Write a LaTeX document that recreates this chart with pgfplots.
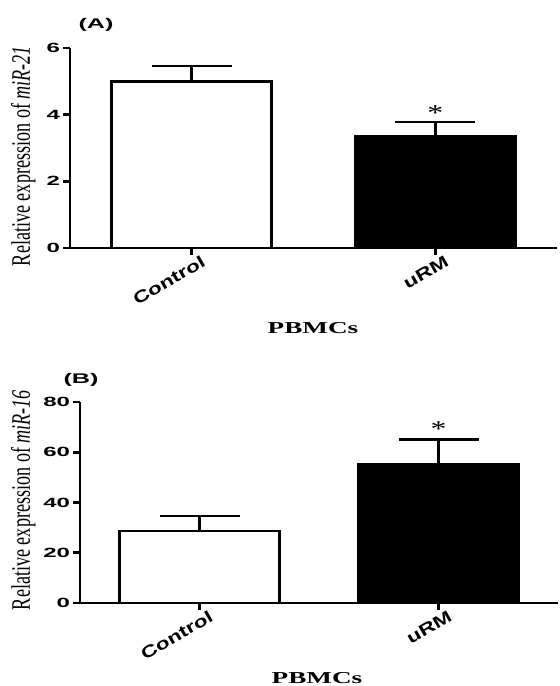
\documentclass[border=0pt]{standalone}
\usepackage{fontspec}
\usepackage{pgfplots}
\pgfplotsset{compat=1.18}
\newfontfamily\tickfont[FakeStretch=1.8]{Liberation Sans}
\newfontfamily\xtfont[FakeStretch=1.35]{Liberation Sans}
\newfontfamily\pbfont[FakeStretch=1.63]{Liberation Serif}
\newfontfamily\ylabfont[FakeStretch=0.68]{Liberation Serif}
\newfontfamily\starfont[FakeStretch=1.4]{Liberation Serif}

\pgfplotsset{
  panel/.style={
    scale only axis,
    axis x line*=bottom,
    axis y line*=left,
    axis line style={line width=1.9pt},
    every tick/.style={black, line width=1.9pt},
    tick align=outside,
    major tick length=5.25pt,
    xtick pos=bottom, ytick pos=left,
    xmin=-0.5, xmax=1.5, ymin=0,
    xtick={0,1},
    xticklabels={Control,uRM},
    xticklabel style={font=\xtfont\bfseries\fontsize{12.5pt}{14pt}\selectfont,
      rotate=30, anchor=north east, inner sep=0pt, xshift=6pt, yshift=-3pt},
    yticklabel style={font=\tickfont\bfseries\fontsize{10pt}{12pt}\selectfont, inner sep=2pt},
    /pgf/number format/assume math mode=true,
    ybar, bar width=120pt,
    clip=false,
  },
  barA/.style={bar shift=0pt, draw=black, line width=1.9pt,
    error bars/y dir=plus, error bars/y explicit,
    error bars/error bar style={line width=1.9pt, black},
    error bars/error mark options={rotate=90, line width=1.9pt, black, mark size=30pt}},
}

\begin{document}
\begin{tikzpicture}
\useasboundingbox (0pt,0pt) rectangle (420pt,-514.5pt);

% panel A
\begin{axis}[panel, at={(52.5pt,-186pt)}, anchor=south west,
  width=365.25pt, height=150pt, ymax=6, ytick={0,2,4,6}]
  \addplot[barA, fill=white] coordinates {(0,5.0) +- (0,0.46)};
  \addplot[barA, fill=black] coordinates {(1,3.36) +- (0,0.42)};
  \node[font=\starfont\fontsize{17pt}{17pt}\selectfont, anchor=north, inner sep=0pt]
    at (axis cs:1,4.29) {*};
\end{axis}
\node[font=\tickfont\bfseries\fontsize{10.5pt}{12pt}\selectfont] at (72pt,-18.75pt) {(A)};
\node[font=\ylabfont\fontsize{20pt}{22pt}\selectfont, rotate=90, anchor=base]
  at (22.5pt,-117pt) {Relative expression of \textit{miR-21}};
\node[font=\pbfont\bfseries\fontsize{12.5pt}{14pt}\selectfont, anchor=base]
  at (234.75pt,-249.75pt) {PBMCs};

% panel B
\begin{axis}[panel, at={(60pt,-452.25pt)}, anchor=south west,
  width=358.5pt, height=150.75pt, ymax=80, ytick={0,20,40,60,80}]
  \addplot[barA, fill=white] coordinates {(0,28.7) +- (0,6.0)};
  \addplot[barA, fill=black] coordinates {(1,55.4) +- (0,9.6)};
  \node[font=\starfont\fontsize{17pt}{17pt}\selectfont, anchor=north, inner sep=0pt]
    at (axis cs:1,72.1) {*};
\end{axis}
\node[font=\tickfont\bfseries\fontsize{10.5pt}{12pt}\selectfont] at (60.75pt,-285pt) {(B)};
\node[font=\ylabfont\fontsize{20pt}{22pt}\selectfont, rotate=90, anchor=base]
  at (22.5pt,-375pt) {Relative expression of \textit{miR-16}};
\node[font=\pbfont\bfseries\fontsize{12.5pt}{14pt}\selectfont, anchor=base]
  at (237.75pt,-512.25pt) {PBMCs};
\end{tikzpicture}
\end{document}
